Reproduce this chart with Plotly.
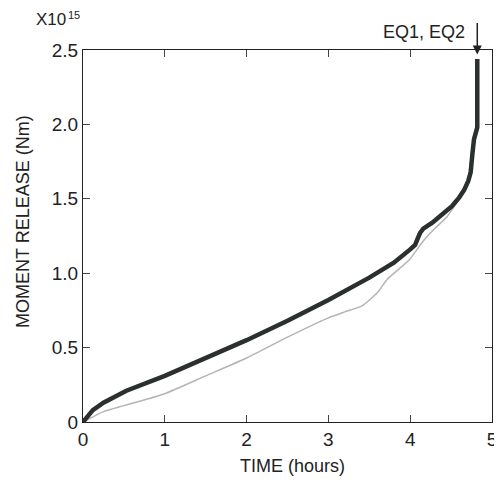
import plotly.graph_objects as go

# Thick curve (cumulative moment, x1e15 Nm)
thick_t = [0, 0.05, 0.12, 0.25, 0.53, 1.0, 1.5, 2.0, 2.5, 3.0, 3.5, 3.8, 4.0, 4.06, 4.09, 4.12, 4.16, 4.27, 4.4, 4.51, 4.6, 4.66, 4.71, 4.74, 4.76, 4.78, 4.81, 4.82, 4.82]
thick_m = [0, 0.03, 0.08, 0.13, 0.21, 0.31, 0.43, 0.55, 0.68, 0.82, 0.97, 1.07, 1.16, 1.19, 1.23, 1.27, 1.30, 1.34, 1.40, 1.45, 1.51, 1.56, 1.62, 1.68, 1.80, 1.90, 1.96, 1.98, 2.44]

# Thin grey curve
thin_t = [0, 0.25, 0.5, 1.0, 1.5, 2.0, 2.5, 3.0, 3.2, 3.41, 3.6, 3.72, 3.99, 4.15, 4.3, 4.45, 4.6, 4.7, 4.75]
thin_m = [0, 0.07, 0.11, 0.19, 0.31, 0.43, 0.57, 0.70, 0.74, 0.78, 0.87, 0.96, 1.09, 1.21, 1.30, 1.38, 1.50, 1.62, 1.80]

x_ticks = [0, 1, 2, 3, 4, 5]
y_ticks = [0, 0.5, 1.0, 1.5, 2.0, 2.5]
y_tick_labels = ["0", "0.5", "1.0", "1.5", "2.0", "2.5"]

O = 8  # default page body margin
W, H = 502 - O, 484 - O
L, T = 83 - O, 50 - O
R = W - (492 - O)
B = H - (422 - O)
ph = H - T - B
pw = W - L - R

def px(xp):  # page pixel x -> paper x
    return (xp - O - L) / pw

def py(yp):  # page pixel y -> paper y
    return 1 - (yp - O - T) / ph

fig = go.Figure()
fig.add_trace(go.Scatter(x=thin_t, y=thin_m, mode="lines",
                         line=dict(color="#b4b4b4", width=1.5, shape="spline", smoothing=0.5),
                         showlegend=False))
fig.add_trace(go.Scatter(x=thick_t, y=thick_m, mode="lines",
                         line=dict(color="#2b302d", width=4.5), showlegend=False))

fam = "Liberation Sans, Arial, sans-serif"
tickfont = dict(family=fam, size=19, color="#222")
titlefont = dict(family=fam, size=18, color="#222")

fig.update_layout(
    width=W, height=H,
    margin=dict(l=L, r=R, t=T, b=B, autoexpand=False),
    paper_bgcolor="white", plot_bgcolor="white",
    font=titlefont,
    xaxis=dict(range=[0, 5], tickvals=x_ticks, ticks="inside", ticklen=7,
               showline=True, linecolor="#222", linewidth=1, mirror="ticks",
               showgrid=False, zeroline=False, tickfont=tickfont, automargin=False),
    yaxis=dict(range=[0, 2.5], tickvals=y_ticks, ticktext=y_tick_labels,
               ticks="inside", ticklen=7,
               showline=True, linecolor="#222", linewidth=1, mirror="ticks",
               showgrid=False, zeroline=False, tickfont=tickfont, automargin=False),
    annotations=[
        dict(text="TIME (hours)", xref="paper", yref="paper",
             x=px(292), y=py(466),
             xanchor="center", yanchor="middle", showarrow=False, font=titlefont),
        dict(text="MOMENT RELEASE (Nm)", xref="paper", yref="paper",
             x=px(23), y=py(222), textangle=-90,
             xanchor="center", yanchor="middle", showarrow=False, font=titlefont),
        dict(text="X10", xref="paper", yref="paper",
             x=px(34), y=py(19.5),
             xanchor="left", yanchor="middle", showarrow=False,
             font=dict(family=fam, size=17, color="#222")),
        dict(text="15", xref="paper", yref="paper",
             x=px(66), y=py(15),
             xanchor="left", yanchor="middle", showarrow=False,
             font=dict(family=fam, size=11, color="#222")),
        dict(text="EQ1, EQ2", xref="paper", yref="paper",
             x=px(467), y=py(32),
             xanchor="right", yanchor="middle", showarrow=False, font=titlefont),
        dict(text="", x=4.82, y=2.47, xref="x", yref="y",
             ax=0, ay=-33, showarrow=True, arrowhead=2, arrowsize=1.2,
             arrowwidth=1.5, arrowcolor="#222"),
    ],
)

fig.write_html("out.html")
